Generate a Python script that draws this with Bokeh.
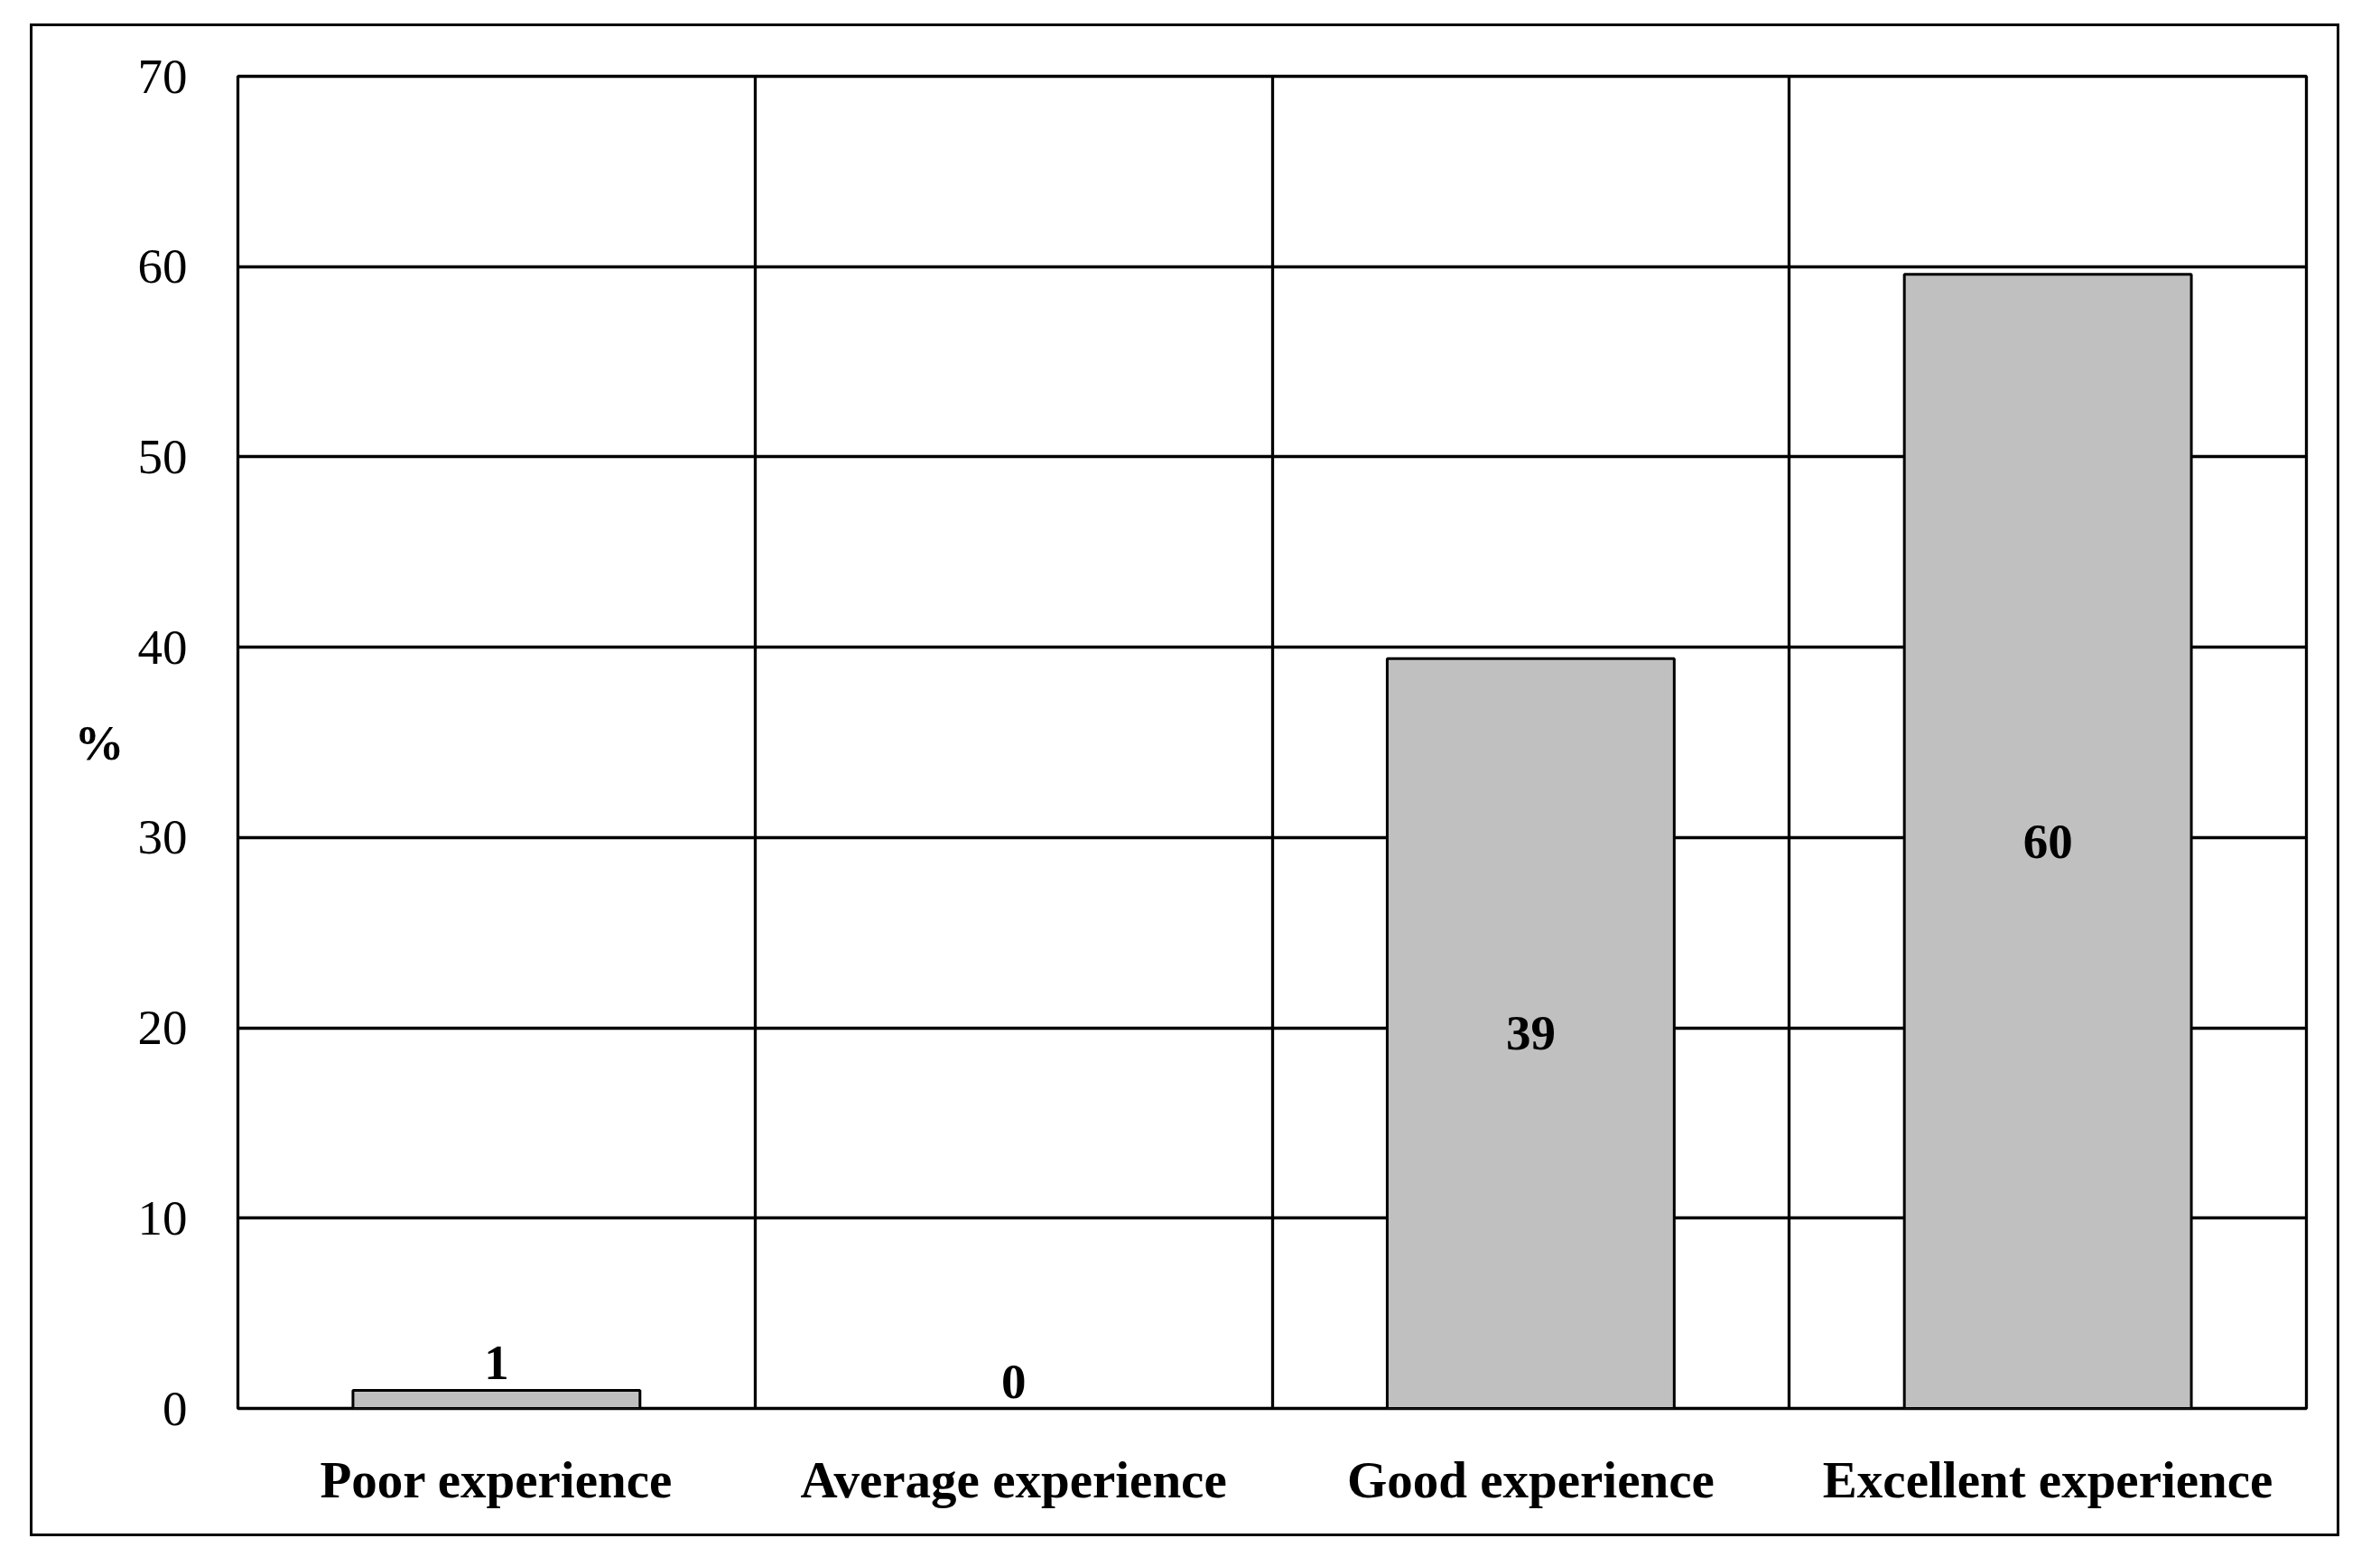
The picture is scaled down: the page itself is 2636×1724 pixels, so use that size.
from bokeh.plotting import figure
from bokeh.models import ColumnDataSource, Range1d, FixedTicker, LabelSet
from bokeh.embed import file_html
from bokeh.resources import INLINE

categories = ["Poor experience", "Average experience", "Good experience", "Excellent experience"]
values = [0.95, 0.0, 39.4, 59.6]
value_labels = ["1", "0", "39", "60"]
y_ticks = [0, 10, 20, 30, 40, 50, 60, 70]

xs = [i + 0.5 for i in range(len(categories))]
inside = [v > 5 for v in values]
src_in = ColumnDataSource(dict(
    x=[x for x, k in zip(xs, inside) if k],
    y=[v / 2 for v, k in zip(values, inside) if k],
    t=[t for t, k in zip(value_labels, inside) if k],
))
src_out = ColumnDataSource(dict(
    x=[x for x, k in zip(xs, inside) if not k],
    y=[v for v, k in zip(values, inside) if not k],
    t=[t for t, k in zip(value_labels, inside) if not k],
))
src = ColumnDataSource(dict(x=xs, top=values))

FONT = "Liberation Serif"

p = figure(width=2558, height=1675, output_backend="svg", toolbar_location=None,
           x_range=Range1d(0, len(categories)), y_range=Range1d(0, 70))
p.margin = (26, 0, 0, 33)
p.styles = {"border": "3px solid black"}
p.min_border_left = 227
p.min_border_top = 55
p.min_border_right = 40
p.min_border_bottom = 145
p.outline_line_color = "black"
p.outline_line_width = 3.3
p.background_fill_color = "white"
p.border_fill_color = "white"

p.vbar(x="x", top="top", bottom=0, width=0.555, source=src,
       fill_color="#C0C0C0", line_color="black", line_width=3)

p.add_layout(LabelSet(x="x", y="y", text="t", source=src_in,
                      text_align="center", text_baseline="middle",
                      text_font=FONT, text_font_style="bold",
                      text_font_size="55px", text_color="black"))
p.add_layout(LabelSet(x="x", y="y", text="t", source=src_out, y_offset=12,
                      text_align="center", text_baseline="alphabetic",
                      text_font=FONT, text_font_style="bold",
                      text_font_size="55px", text_color="black"))

# y axis
p.yaxis.ticker = FixedTicker(ticks=y_ticks)
p.yaxis.axis_line_color = None
p.yaxis.major_tick_line_color = None
p.yaxis.minor_tick_line_color = None
p.yaxis.major_tick_out = 0
p.yaxis.major_tick_in = 0
p.yaxis.major_label_standoff = 56
p.yaxis.major_label_text_font = FONT
p.yaxis.major_label_text_font_size = "55px"
p.yaxis.major_label_text_color = "black"
p.yaxis.axis_label = "%"
p.yaxis.axis_label_orientation = "horizontal"
p.yaxis.axis_label_text_font = FONT
p.yaxis.axis_label_text_font_style = "bold"
p.yaxis.axis_label_text_font_size = "55px"
p.yaxis.axis_label_text_color = "black"
p.yaxis.axis_label_standoff = 12

# x axis
p.xaxis.ticker = FixedTicker(ticks=xs)
p.xaxis.major_label_overrides = {x: c for x, c in zip(xs, categories)}
p.xaxis.axis_line_color = None
p.xaxis.major_tick_line_color = None
p.xaxis.minor_tick_line_color = None
p.xaxis.major_tick_out = 0
p.xaxis.major_tick_in = 0
p.xaxis.major_label_standoff = 47
p.xaxis.major_label_text_font = FONT
p.xaxis.major_label_text_font_style = "bold"
p.xaxis.major_label_text_font_size = "57px"
p.xaxis.major_label_text_color = "black"

# grid
p.ygrid.ticker = FixedTicker(ticks=y_ticks)
p.ygrid.grid_line_color = "black"
p.ygrid.grid_line_width = 3.3
p.xgrid.ticker = FixedTicker(ticks=[1, 2, 3])
p.xgrid.grid_line_color = "black"
p.xgrid.grid_line_width = 3.3

open("out.html", "w").write(file_html(p, INLINE))
